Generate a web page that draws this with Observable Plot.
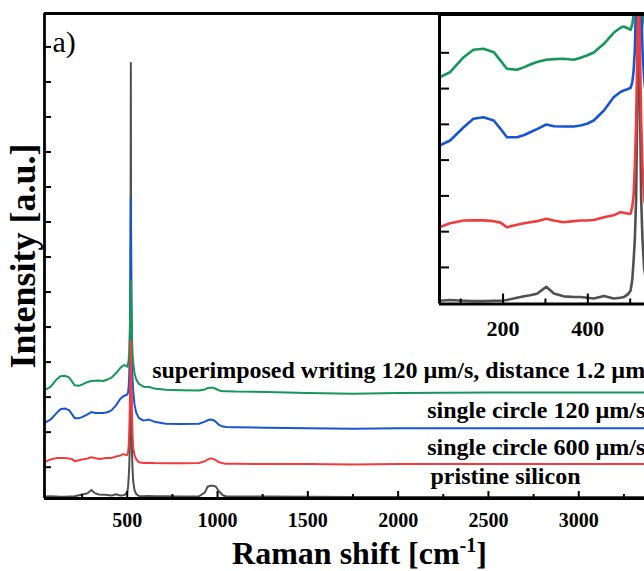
<!DOCTYPE html>
<html><head><meta charset="utf-8">
<script src="https://cdn.jsdelivr.net/npm/d3@7"></script>
<script src="https://cdn.jsdelivr.net/npm/@observablehq/plot@0.6"></script>
<style>
body{margin:0;background:#fff;}
#wrap{position:relative;width:644px;height:571px;overflow:hidden;}
#inset{position:absolute;left:430px;top:0;}
</style>
</head><body><div id="wrap"><div id="main"></div><div id="inset"></div></div>
<script>
// Raman shift (cm^-1)
const wavenumber = [50,75,107,130,154,178,194,209,233,250,
  264,280,302,320,343,367,383,398,414,438,
  461,477,485,495,501,505,508,511,514,517,
  520,523,526,529,533,540,550,565,590,620,
  650,713,800,898,930,945,960,975,990,1010,
  1030,1046,1100,1269,1500,1750,2000,2500,3000,3400];
// intensities (offset, arbitrary units)
const pristine = [-0.84,-0.83,-0.84,-0.845,-0.845,-0.84,-0.84,-0.83,-0.80,-0.78,
  -0.765,-0.745,-0.65,-0.74,-0.78,-0.79,-0.79,-0.80,-0.81,-0.775,
  -0.81,-0.80,-0.79,-0.75,-0.70,-0.55,-0.30,0.0,0.55,1.9,
  11.54,1.9,0.55,0.0,-0.4,-0.65,-0.77,-0.82,-0.83,-0.82,
  -0.83,-0.83,-0.84,-0.83,-0.72,-0.56,-0.53,-0.53,-0.55,-0.70,
  -0.80,-0.83,-0.84,-0.84,-0.845,-0.85,-0.85,-0.85,-0.85,-0.85];
const circle600 = [0.167,0.22,0.259,0.26,0.26,0.25,0.23,0.167,0.20,0.22,
  0.236,0.25,0.282,0.26,0.236,0.25,0.259,0.259,0.265,0.304,
  0.33,0.373,0.365,0.35,0.351,0.45,0.6,1.0,1.6,2.6,
  3.62,2.6,1.6,1.0,0.55,0.35,0.22,0.14,0.12,0.13,
  0.12,0.11,0.11,0.12,0.17,0.22,0.25,0.24,0.20,0.14,
  0.11,0.10,0.10,0.09,0.09,0.08,0.09,0.09,0.09,0.09];
const circle120 = [1.286,1.355,1.537,1.652,1.674,1.629,1.515,1.40,1.40,1.43,
  1.468,1.51,1.574,1.55,1.546,1.546,1.56,1.584,1.629,1.766,
  1.948,2.02,2.04,2.06,2.077,2.15,2.3,2.6,3.3,5.0,
  7.68,5.0,3.3,2.6,2.2,1.8,1.55,1.40,1.33,1.36,
  1.30,1.24,1.23,1.24,1.30,1.34,1.36,1.35,1.30,1.20,
  1.16,1.15,1.14,1.125,1.11,1.10,1.11,1.11,1.11,1.11];
const superimposed = [2.222,2.29,2.496,2.597,2.611,2.565,2.45,2.337,2.323,2.36,
  2.396,2.43,2.46,2.47,2.474,2.46,2.49,2.519,2.56,2.68,
  2.83,2.90,2.916,2.89,2.871,2.95,3.07,3.3,3.8,4.5,
  5.33,4.5,3.8,3.3,3.0,2.7,2.5,2.38,2.30,2.29,
  2.25,2.21,2.20,2.19,2.22,2.26,2.27,2.27,2.24,2.19,
  2.17,2.17,2.16,2.15,2.12,2.10,2.12,2.13,2.13,2.13];

const seriesNames = ["pristine silicon","single circle 120 µm/s","superimposed writing 120 µm/s, distance 1.2 µm","single circle 600 µm/s"];
const seriesValues = [pristine, circle120, superimposed, circle600];
const seriesColors = ["#505050","#1656d4","#14985a","#f03c3c"];

const labelText = ["superimposed writing 120 µm/s, distance 1.2 µm","single circle 120 µm/s","single circle 600 µm/s","pristine silicon"];
const labelX = [638, 2161, 2161, 2179];
const labelY = [2.534, 1.391, 0.334, -0.466];

const xMajor = [500,1000,1500,2000,2500,3000];
const xMinor = [250,750,1250,1750,2250,2750,3250];
const yTicks = d3.range(0,13);
const insetXMajor = [200,400];
const insetXMinor = [100,300,500];

const xDomain = [42, 3364];
const yDomain = [-0.894, 12.954];
const insetXDomain = [50, 533.8];
const insetYDomain = [-0.885, 3.081];
const insetYTicks = d3.range(1,8).map(j => -0.874 + 0.49*j);

const rows = seriesNames.flatMap((s, k) => wavenumber.map((w, i) => ({series: s, wn: w, v: seriesValues[k][i]})));
const labels = labelText.map((t, i) => ({text: t, x: labelX[i], y: labelY[i]}));

const font = "'Liberation Serif','Times New Roman',serif";
const blank = () => "";
const plain = d => String(d);

const main = Plot.plot({
  width: 644, height: 571,
  marginLeft: 44, marginTop: 13, marginBottom: 73, marginRight: 0,
  style: {fontFamily: font, fontWeight: "bold", background: "white", overflow: "hidden"},
  x: {domain: xDomain, label: null},
  y: {domain: yDomain, label: null},
  color: {domain: seriesNames, range: seriesColors},
  marks: [
    Plot.line(rows, {x: "wn", y: "v", z: "series", stroke: "series", strokeWidth: 2, clip: true}),
    Plot.axisX(xMajor, {tickSize: -7, tickFormat: blank, strokeWidth: 2, label: null}),
    Plot.axisX(xMinor, {tickSize: -4, tickFormat: blank, strokeWidth: 2, label: null}),
    Plot.axisX(xMajor, {tickSize: 0, tickPadding: 14, tickFormat: plain, fontSize: 20, fontWeight: "bold", fill: "black", label: null}),
    Plot.axisY(yTicks, {tickSize: -7, tickFormat: blank, strokeWidth: 2, label: null}),
    Plot.ruleX([xDomain[0]], {strokeWidth: 2.8, stroke: "black"}),
    Plot.ruleY([yDomain[0], yDomain[1]], {strokeWidth: 2.8, stroke: "black"}),
    Plot.text(labels, {x: "x", y: "y", text: "text", textAnchor: "start", lineAnchor: "bottom", fontSize: 24, fontWeight: "bold", fill: "black"}),
    Plot.text(["a)"], {frameAnchor: "top-left", dx: 8, dy: 38, textAnchor: "start", lineAnchor: "bottom", fontSize: 30, fontWeight: "normal", fill: "black"}),
    Plot.text(["Intensity [a.u.]"], {frameAnchor: "left", rotate: -90, dx: -9.4, textAnchor: "middle", lineAnchor: "bottom", fontSize: 36, fontWeight: "bold", fill: "black"}),
    Plot.text(["Raman shift [cm-1]"], {frameAnchor: "bottom", dx: 15, dy: 65, lineAnchor: "bottom", fontSize: 32, fontWeight: "bold", fill: "black"})
  ]
});
document.getElementById("main").appendChild(main);

// superscript in x title
d3.select(main).selectAll("text").filter(function(){ return this.textContent === "Raman shift [cm-1]"; })
  .each(function(){
    const t = d3.select(this);
    t.text(null);
    t.append("tspan").text("Raman shift [cm");
    t.append("tspan").attr("dy", -12).attr("font-size", 20).text("-1");
    t.append("tspan").attr("dy", 12).text("]");
  });

const inset = Plot.plot({
  width: 214, height: 345,
  marginLeft: 9, marginTop: 14, marginBottom: 41.5, marginRight: 0,
  style: {fontFamily: font, fontWeight: "bold", background: "transparent", overflow: "hidden"},
  x: {domain: insetXDomain, label: null},
  y: {domain: insetYDomain, label: null},
  color: {domain: seriesNames, range: seriesColors},
  marks: [
    Plot.frame({fill: "white", stroke: null}),
    Plot.line(rows.filter(d => d.wn <= 600), {x: "wn", y: "v", z: "series", stroke: "series", strokeWidth: 2.6, clip: true}),
    Plot.axisX(insetXMajor, {tickSize: -10, tickFormat: blank, strokeWidth: 2, label: null}),
    Plot.axisX(insetXMinor, {tickSize: -5, tickFormat: blank, strokeWidth: 2, label: null}),
    Plot.axisX(insetXMajor, {tickSize: 0, tickPadding: 16, tickFormat: plain, fontSize: 22, fontWeight: "bold", fill: "black", label: null}),
    Plot.axisY(insetYTicks, {tickSize: -10, tickFormat: blank, strokeWidth: 2, label: null}),
    Plot.ruleX([insetXDomain[0]], {strokeWidth: 3, stroke: "black"}),
    Plot.ruleY([insetYDomain[0], insetYDomain[1]], {strokeWidth: 3, stroke: "black"})
  ]
});
document.getElementById("inset").appendChild(inset);
</script></body></html>
